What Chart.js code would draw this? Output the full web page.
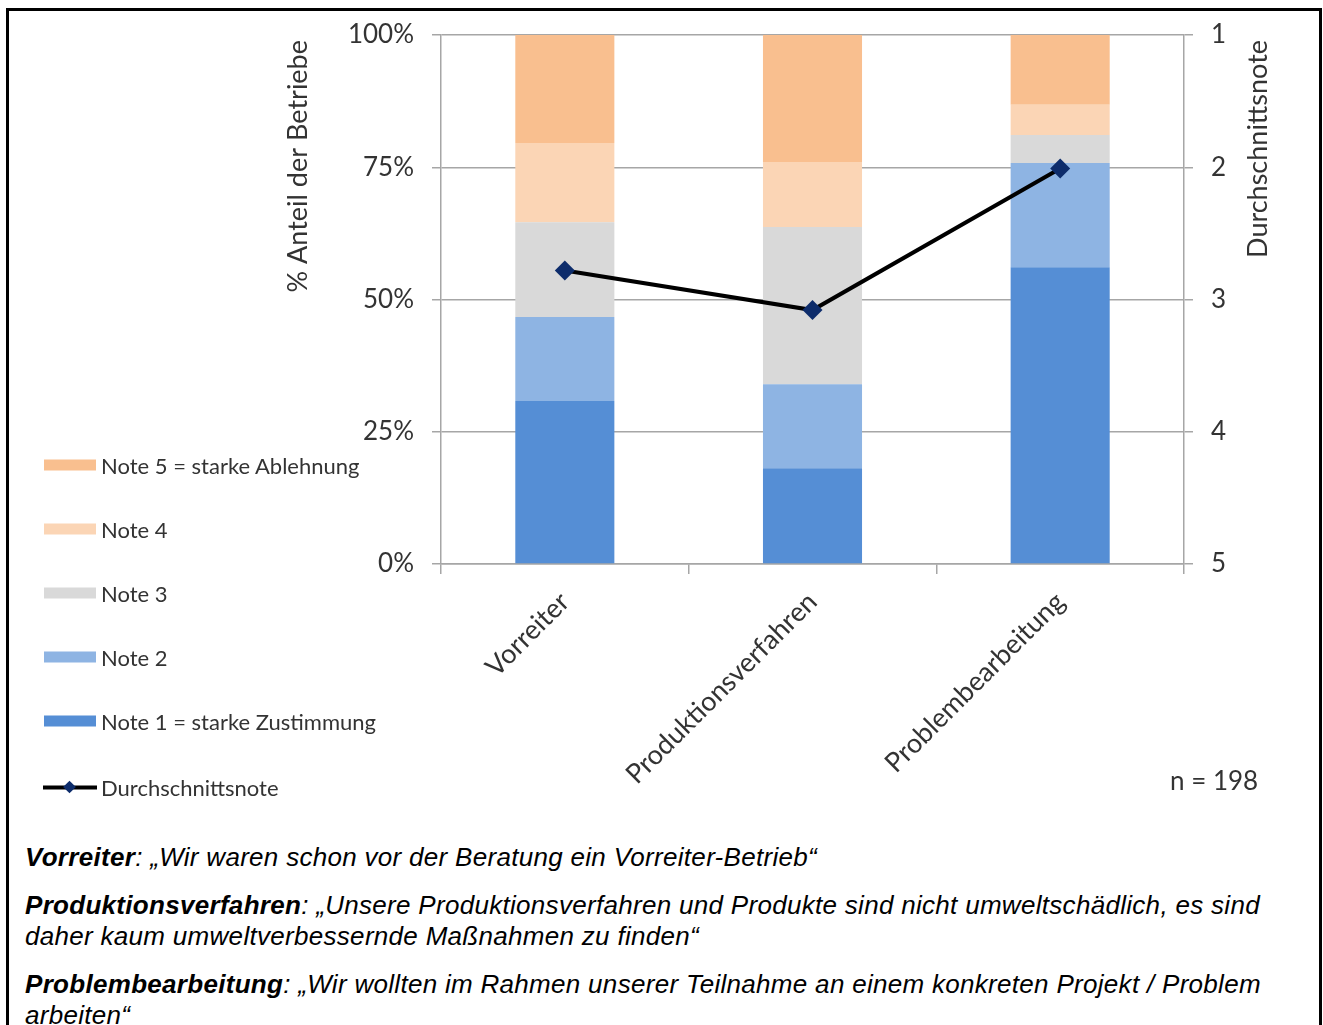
<!DOCTYPE html>
<html>
<head>
<meta charset="utf-8">
<script src="https://cdn.jsdelivr.net/npm/chart.js@4/dist/chart.umd.min.js"></script>
<style>
  html, body { margin: 0; padding: 0; background: #fff; }
  body { width: 1323px; height: 1025px; position: relative; overflow: hidden; }
  #frame { position: absolute; left: 6px; top: 8px; width: 1316px; height: 1100px; border: 3px solid #000; box-sizing: border-box; pointer-events: none; }
  #wrap { position: absolute; left: 0; top: 0; width: 1323px; height: 830px; }
  #legend { position: absolute; left: 44px; top: 0; font-family: Lato, sans-serif; font-size: 22px; color: #333; }
  .item { position: absolute; left: 0; display: flex; align-items: center; white-space: nowrap; transform: translateY(-50%); }
  .sw { width: 52px; height: 11px; margin-right: 5px; }
  .ln { width: 54px; height: 12px; margin-right: 4px; position: relative; }
  .ln::before { content: ''; position: absolute; left: 0; right: 0; top: 4px; height: 4px; background: #000; }
  .ln::after { content: ''; position: absolute; left: 22px; top: 1px; width: 9px; height: 9px; background: #0d2c6b; transform: rotate(45deg); }
  #n { position: absolute; left: 1170px; top: 780px; transform: translateY(-50%); font-family: Lato, sans-serif; font-size: 26px; color: #333; }
  #notes { position: absolute; left: 25px; top: 842px; font-family: "Liberation Sans", Arial, sans-serif; font-size: 26px; letter-spacing: 0.3px; font-style: italic; color: #000; line-height: 31px; white-space: nowrap; }
  #notes p { margin: 0 0 17px 0; }
</style>
</head>
<body>
<div id="wrap"><canvas id="chart"></canvas></div>
<div id="legend"></div>
<div id="n">n = 198</div>
<div id="notes">
  <p><b>Vorreiter</b>: „Wir waren schon vor der Beratung ein Vorreiter-Betrieb“</p>
  <p><b>Produktionsverfahren</b>: „Unsere Produktionsverfahren und Produkte sind nicht umweltschädlich, es sind<br>daher kaum umweltverbessernde Maßnahmen zu finden“</p>
  <p><b>Problembearbeitung</b>: „Wir wollten im Rahmen unserer Teilnahme an einem konkreten Projekt / Problem<br>arbeiten“</p>
</div>
<div id="frame"></div>
<script>
// data
const categories = ['Vorreiter', 'Produktionsverfahren', 'Problembearbeitung'];
const note1 = [30.8, 18.1, 56.1];
const note2 = [15.9, 15.9, 19.7];
const note3 = [17.9, 29.7, 5.3];
const note4 = [15.0, 12.3, 5.7];
const note5 = [20.4, 24.0, 13.2];
const meanGrade = [2.78, 3.08, 2.01];
const pctTicks = [0, 25, 50, 75, 100];
const gradeTicks = [1, 2, 3, 4, 5];

const legendLabels = ['Note 5 = starke Ablehnung', 'Note 4', 'Note 3', 'Note 2', 'Note 1 = starke Zustimmung'];
const colors = {
  n1: '#558ed5',
  n2: '#8eb4e3',
  n3: '#d9d9d9',
  n4: '#fbd5b5',
  n5: '#f9bf8f',
  mean: '#0d2c6b',
  grid: '#a6a6a6',
  text: '#333333'
};

// html legend, same order as the picture
const legend = document.getElementById('legend');
const legendColors = [colors.n5, colors.n4, colors.n3, colors.n2, colors.n1];
const rowY = [465, 529, 593, 657, 721, 787];
legendLabels.forEach((lab, i) => {
  const d = document.createElement('div');
  d.className = 'item';
  d.style.top = rowY[i] + 'px';
  d.innerHTML = '<span class="sw" style="background:' + legendColors[i] + '"></span>' + lab;
  legend.appendChild(d);
});
const meanItem = document.createElement('div');
meanItem.className = 'item';
meanItem.style.top = rowY[5] + 'px';
meanItem.style.left = '-1px';
meanItem.innerHTML = '<span class="ln"></span>Durchschnittsnote';
legend.appendChild(meanItem);

// both axis titles read bottom-to-top and sit at the top of the axis
const axisTitles = {
  id: 'axisTitles',
  afterDraw(chart) {
    const ctx = chart.ctx;
    const draw = (text, x, y) => {
      ctx.save();
      ctx.translate(x, y);
      ctx.rotate(-Math.PI / 2);
      ctx.font = '27px Lato';
      ctx.fillStyle = colors.text;
      ctx.textAlign = 'right';
      ctx.textBaseline = 'middle';
      ctx.fillText(text, 0, 0);
      ctx.restore();
    };
    draw('% Anteil der Betriebe', chart.scales.y.left + 22, chart.scales.y.top + 5);
    draw('Durchschnittsnote', chart.scales.y1.left + 74, chart.scales.y1.top + 5);
  }
};

const bar = (label, data, color) => ({
  type: 'bar', label, data, backgroundColor: color, borderWidth: 0,
  yAxisID: 'y', order: 1, barPercentage: 0.4, categoryPercentage: 1
});

new Chart(document.getElementById('chart'), {
  data: {
    labels: categories,
    datasets: [
      {
        type: 'line', label: 'Durchschnittsnote', data: meanGrade, yAxisID: 'y1', order: 0,
        borderColor: '#000', borderWidth: 4, pointStyle: 'rectRot', pointRadius: 10,
        pointBackgroundColor: colors.mean, pointBorderColor: colors.mean, pointBorderWidth: 0
      },
      bar('Note 1 = starke Zustimmung', note1, colors.n1),
      bar('Note 2', note2, colors.n2),
      bar('Note 3', note3, colors.n3),
      bar('Note 4', note4, colors.n4),
      bar('Note 5 = starke Ablehnung', note5, colors.n5)
    ]
  },
  options: {
    responsive: true,
    maintainAspectRatio: false,
    animation: false,
    layout: { padding: { left: 276, right: 43, top: 35, bottom: 0 } },
    plugins: { legend: { display: false }, tooltip: { enabled: false } },
    scales: {
      x: {
        stacked: true,
        afterFit: s => { s.height = 266; },
        grid: { drawOnChartArea: false, drawTicks: true, tickLength: 10, color: colors.grid, lineWidth: 1.5 },
        border: { color: colors.grid, width: 1.5 },
        ticks: { color: colors.text, font: { family: 'Lato', size: 27 }, minRotation: 45, maxRotation: 45, padding: 12 }
      },
      y: {
        stacked: true,
        min: 0, max: 100,
        afterFit: s => { s.width = 441 - 276; },
        afterBuildTicks: s => { s.ticks = pctTicks.map(v => ({ value: v })); },
        grid: { color: colors.grid, lineWidth: 1.5, tickLength: 9 },
        border: { color: colors.grid, width: 1.5 },
        ticks: { color: colors.text, font: { family: 'Lato', size: 26 }, padding: 18, callback: v => v + '%' }
      },
      y1: {
        position: 'right',
        reverse: true,
        min: 1, max: 5,
        afterFit: s => { s.width = 1280 - 1184; },
        afterBuildTicks: s => { s.ticks = gradeTicks.map(v => ({ value: v })); },
        grid: { drawOnChartArea: false, color: colors.grid, lineWidth: 1.5, tickLength: 9 },
        border: { color: colors.grid, width: 1.5 },
        ticks: { color: colors.text, font: { family: 'Lato', size: 26 }, padding: 18 }
      }
    }
  },
  plugins: [axisTitles]
});
</script>
</body>
</html>
